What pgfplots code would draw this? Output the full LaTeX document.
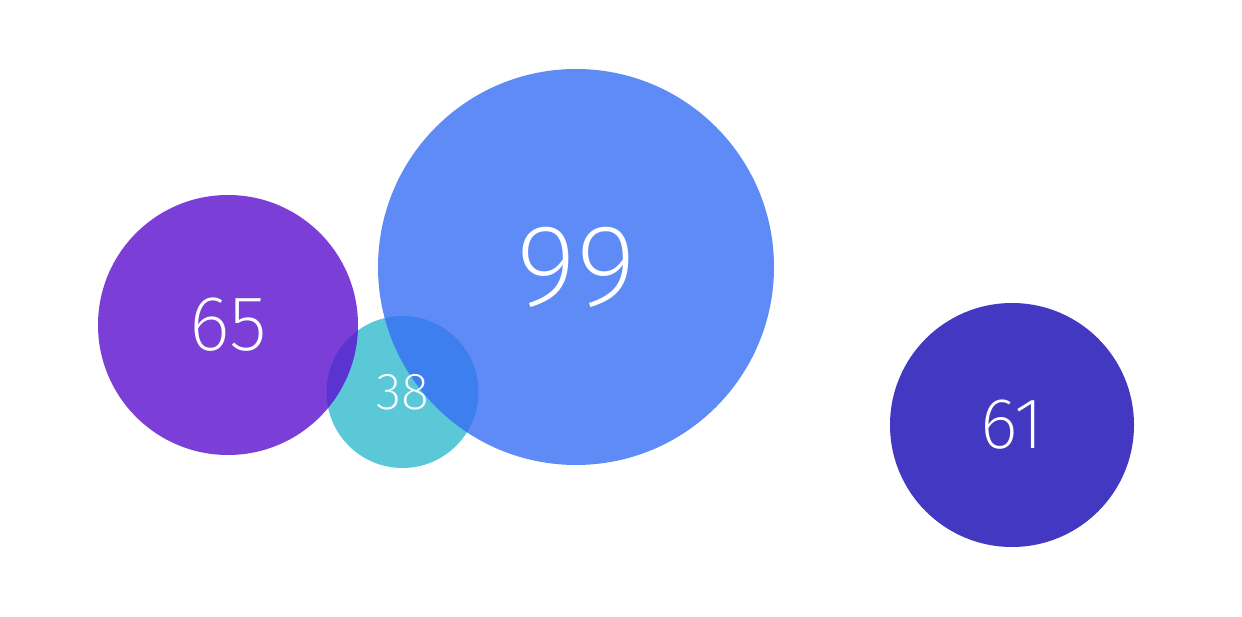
\documentclass[border=0pt]{standalone}
\usepackage{fontspec}
\IfFontExistsTF{Fira Sans ExtraLight}{\setmainfont{Fira Sans ExtraLight}}{\setmainfont{Lato}[UprightFont={* Light}]}
\usepackage{pgfplots}
\pgfplotsset{compat=1.18}
\definecolor{cPurple}{RGB}{90,15,206}
\definecolor{cCyan}{RGB}{50,186,206}
\definecolor{cBlue}{RGB}{55,110,245}
\definecolor{cDark}{RGB}{19,6,179}
\pgfplotsset{
  bubble/.style={only marks, mark=*, draw opacity=0, line width=0pt,
     mark options={draw opacity=0, line width=0pt, fill=#1, fill opacity=0.8}},
  lbl/.style={draw=none, mark=none, every node near coord/.style={anchor=center, text=white, font=\fontsize{#1}{#1}\selectfont}},
}
\begin{document}
\begin{tikzpicture}
\begin{axis}[
  scale only axis, width=621pt, height=308pt,
  xmin=0, xmax=1242, ymin=0, ymax=616,
  hide axis, clip=false,
]
% invisible frame to keep the canvas size
\addplot[draw=none, mark=none, forget plot] coordinates {(0,0) (1242,616)};
% bubbles (radius in px = 2*value, 1px = 0.5pt)
\addplot[bubble=cCyan, mark size=38pt] coordinates {(402.5,224)};
\addplot[bubble=cPurple, mark size=65pt] coordinates {(228,291)};
\addplot[bubble=cBlue, mark size=99pt] coordinates {(576,349)};
\addplot[bubble=cDark, mark size=61pt] coordinates {(1012,191)};
% labels
\addplot[lbl=26, nodes near coords={38}] coordinates {(402.5,224)};
\addplot[lbl=39, nodes near coords={65}] coordinates {(228,291)};
\addplot[lbl=58, nodes near coords={99}] coordinates {(576,349)};
\addplot[lbl=36, nodes near coords={61}] coordinates {(1012,191)};
\end{axis}
\end{tikzpicture}
\end{document}
